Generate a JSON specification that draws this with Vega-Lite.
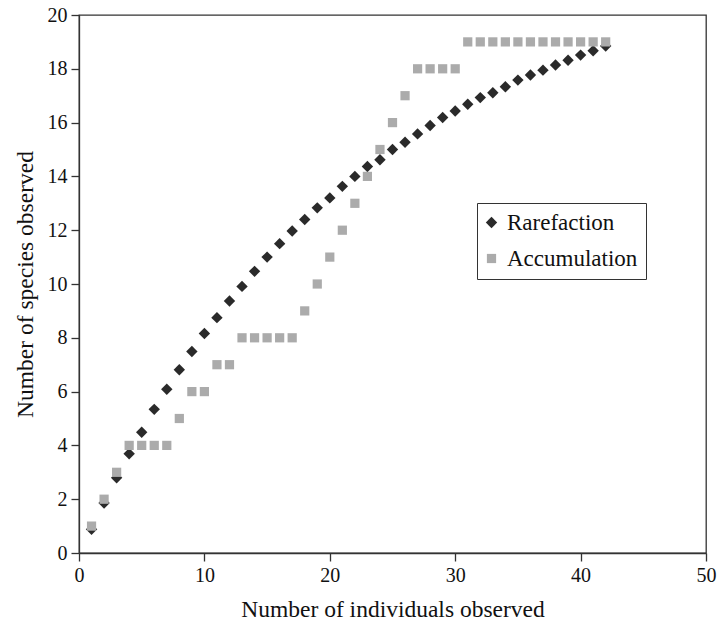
{
  "$schema": "https://vega.github.io/schema/vega-lite/v6.json",
  "width": 627,
  "height": 538,
  "autosize": "none",
  "padding": {"left": 79, "top": 15, "right": 14, "bottom": 70},
  "background": "white",
  "config": {
    "font": "Liberation Serif",
    "view": {"stroke": "#333", "strokeWidth": 1.3},
    "axis": {
      "labelFont": "Liberation Serif", "titleFont": "Liberation Serif",
      "labelFontSize": 20, "titleFontSize": 23.5, "titleFontWeight": "normal",
      "labelColor": "#111", "titleColor": "#111",
      "domainColor": "#333", "tickColor": "#333", "tickSize": 8, "grid": false,
      "domainWidth": 1.3, "tickWidth": 1.3, "labelFlush": false, "labelOverlap": false
    }
  },
  "data": {"values": [
    {"x": 1, "y": 0.88, "series": "Rarefaction"},
    {"x": 2, "y": 1.86, "series": "Rarefaction"},
    {"x": 3, "y": 2.8, "series": "Rarefaction"},
    {"x": 4, "y": 3.69, "series": "Rarefaction"},
    {"x": 5, "y": 4.49, "series": "Rarefaction"},
    {"x": 6, "y": 5.34, "series": "Rarefaction"},
    {"x": 7, "y": 6.09, "series": "Rarefaction"},
    {"x": 8, "y": 6.81, "series": "Rarefaction"},
    {"x": 9, "y": 7.49, "series": "Rarefaction"},
    {"x": 10, "y": 8.16, "series": "Rarefaction"},
    {"x": 11, "y": 8.75, "series": "Rarefaction"},
    {"x": 12, "y": 9.37, "series": "Rarefaction"},
    {"x": 13, "y": 9.91, "series": "Rarefaction"},
    {"x": 14, "y": 10.47, "series": "Rarefaction"},
    {"x": 15, "y": 11.0, "series": "Rarefaction"},
    {"x": 16, "y": 11.5, "series": "Rarefaction"},
    {"x": 17, "y": 11.97, "series": "Rarefaction"},
    {"x": 18, "y": 12.4, "series": "Rarefaction"},
    {"x": 19, "y": 12.83, "series": "Rarefaction"},
    {"x": 20, "y": 13.2, "series": "Rarefaction"},
    {"x": 21, "y": 13.63, "series": "Rarefaction"},
    {"x": 22, "y": 14.0, "series": "Rarefaction"},
    {"x": 23, "y": 14.37, "series": "Rarefaction"},
    {"x": 24, "y": 14.62, "series": "Rarefaction"},
    {"x": 25, "y": 15.0, "series": "Rarefaction"},
    {"x": 26, "y": 15.27, "series": "Rarefaction"},
    {"x": 27, "y": 15.58, "series": "Rarefaction"},
    {"x": 28, "y": 15.89, "series": "Rarefaction"},
    {"x": 29, "y": 16.19, "series": "Rarefaction"},
    {"x": 30, "y": 16.43, "series": "Rarefaction"},
    {"x": 31, "y": 16.68, "series": "Rarefaction"},
    {"x": 32, "y": 16.93, "series": "Rarefaction"},
    {"x": 33, "y": 17.11, "series": "Rarefaction"},
    {"x": 34, "y": 17.33, "series": "Rarefaction"},
    {"x": 35, "y": 17.58, "series": "Rarefaction"},
    {"x": 36, "y": 17.77, "series": "Rarefaction"},
    {"x": 37, "y": 17.95, "series": "Rarefaction"},
    {"x": 38, "y": 18.14, "series": "Rarefaction"},
    {"x": 39, "y": 18.32, "series": "Rarefaction"},
    {"x": 40, "y": 18.51, "series": "Rarefaction"},
    {"x": 41, "y": 18.67, "series": "Rarefaction"},
    {"x": 42, "y": 18.85, "series": "Rarefaction"},
    {"x": 1, "y": 1, "series": "Accumulation"},
    {"x": 2, "y": 2, "series": "Accumulation"},
    {"x": 3, "y": 3, "series": "Accumulation"},
    {"x": 4, "y": 4, "series": "Accumulation"},
    {"x": 5, "y": 4, "series": "Accumulation"},
    {"x": 6, "y": 4, "series": "Accumulation"},
    {"x": 7, "y": 4, "series": "Accumulation"},
    {"x": 8, "y": 5, "series": "Accumulation"},
    {"x": 9, "y": 6, "series": "Accumulation"},
    {"x": 10, "y": 6, "series": "Accumulation"},
    {"x": 11, "y": 7, "series": "Accumulation"},
    {"x": 12, "y": 7, "series": "Accumulation"},
    {"x": 13, "y": 8, "series": "Accumulation"},
    {"x": 14, "y": 8, "series": "Accumulation"},
    {"x": 15, "y": 8, "series": "Accumulation"},
    {"x": 16, "y": 8, "series": "Accumulation"},
    {"x": 17, "y": 8, "series": "Accumulation"},
    {"x": 18, "y": 9, "series": "Accumulation"},
    {"x": 19, "y": 10, "series": "Accumulation"},
    {"x": 20, "y": 11, "series": "Accumulation"},
    {"x": 21, "y": 12, "series": "Accumulation"},
    {"x": 22, "y": 13, "series": "Accumulation"},
    {"x": 23, "y": 14, "series": "Accumulation"},
    {"x": 24, "y": 15, "series": "Accumulation"},
    {"x": 25, "y": 16, "series": "Accumulation"},
    {"x": 26, "y": 17, "series": "Accumulation"},
    {"x": 27, "y": 18, "series": "Accumulation"},
    {"x": 28, "y": 18, "series": "Accumulation"},
    {"x": 29, "y": 18, "series": "Accumulation"},
    {"x": 30, "y": 18, "series": "Accumulation"},
    {"x": 31, "y": 19, "series": "Accumulation"},
    {"x": 32, "y": 19, "series": "Accumulation"},
    {"x": 33, "y": 19, "series": "Accumulation"},
    {"x": 34, "y": 19, "series": "Accumulation"},
    {"x": 35, "y": 19, "series": "Accumulation"},
    {"x": 36, "y": 19, "series": "Accumulation"},
    {"x": 37, "y": 19, "series": "Accumulation"},
    {"x": 38, "y": 19, "series": "Accumulation"},
    {"x": 39, "y": 19, "series": "Accumulation"},
    {"x": 40, "y": 19, "series": "Accumulation"},
    {"x": 41, "y": 19, "series": "Accumulation"},
    {"x": 42, "y": 19, "series": "Accumulation"}
  ]},
  "mark": {"type": "point", "filled": true, "opacity": 1},
  "encoding": {
    "x": {"field": "x", "type": "quantitative",
      "scale": {"domain": [0, 50], "nice": false},
      "axis": {"values": [0, 10, 20, 30, 40, 50], "title": "Number of individuals observed", "titlePadding": 12, "labelPadding": 4}},
    "y": {"field": "y", "type": "quantitative",
      "scale": {"domain": [0, 20], "nice": false},
      "axis": {"values": [0, 2, 4, 6, 8, 10, 12, 14, 16, 18, 20], "title": "Number of species observed", "titlePadding": 10, "labelPadding": 4}},
    "color": {"field": "series", "type": "nominal",
      "scale": {"domain": ["Rarefaction", "Accumulation"], "range": ["#2a2a2a", "#ababab"]},
      "legend": {"title": null, "orient": "none", "legendX": 398, "legendY": 188,
        "strokeColor": "#333", "fillColor": "white", "padding": 8,
        "labelFont": "Liberation Serif", "labelFontSize": 23, "labelColor": "#111",
        "rowPadding": 12, "symbolStrokeWidth": 0, "labelOffset": 4, "symbolOffset": -5}},
    "shape": {"field": "series", "type": "nominal",
      "scale": {"domain": ["Rarefaction", "Accumulation"], "range": ["diamond", "square"]}},
    "size": {"field": "series", "type": "nominal",
      "scale": {"domain": ["Rarefaction", "Accumulation"], "range": [130, 85]}}
  }
}
